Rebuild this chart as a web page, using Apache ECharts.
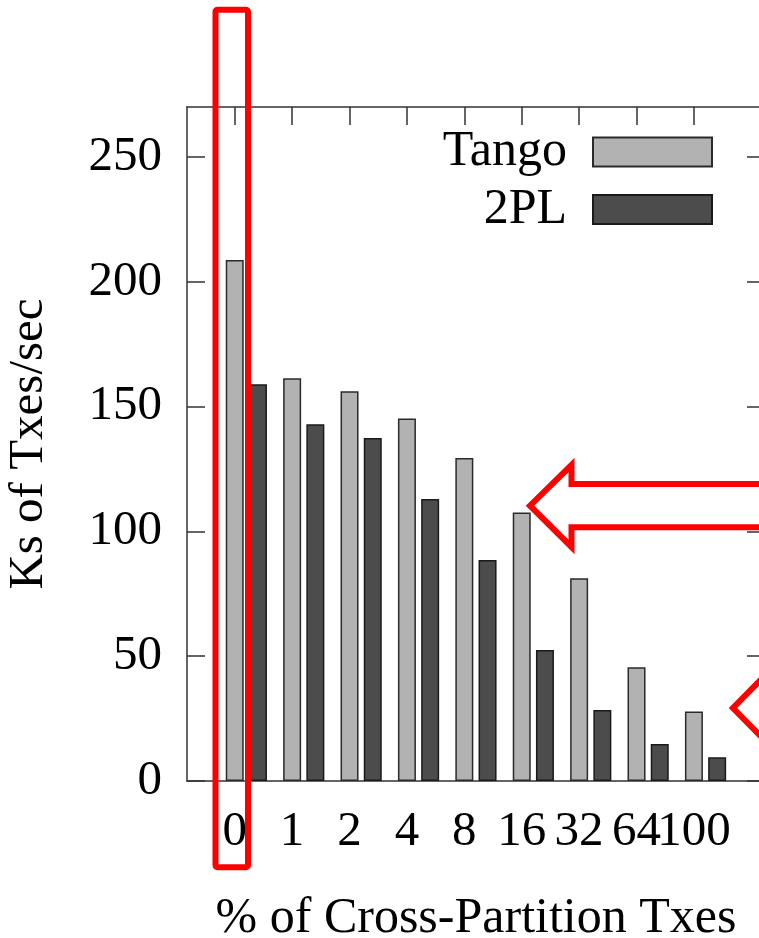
<!DOCTYPE html>
<html>
<head>
<meta charset="utf-8">
<script src="https://cdn.jsdelivr.net/npm/echarts@6/dist/echarts.min.js"></script>
<style>
  html, body { margin: 0; padding: 0; background: #fff; }
  #chart { width: 759px; height: 938px; }
</style>
</head>
<body>
<div id="chart"></div>
<script>
// % of cross-partition transactions (x categories)
var categories = ['0', '1', '2', '4', '8', '16', '32', '64', '100'];
// Ks of Txes/sec
var tangoValues = [208.7, 161.3, 156.1, 145.2, 129.4, 107.6, 81.2, 45.6, 27.8];
var twoPLValues = [158.9, 142.9, 137.4, 113.0, 88.5, 52.5, 28.4, 14.8, 9.5];
var yTicks = [0, 50, 100, 150, 200, 250];

var serif = 'Liberation Serif';
var TICK_SHIFT = 0.203; // labels sit under the first bar of each cluster
var X_MIN = -1.034, X_MAX = 9.036;

var chart = echarts.init(document.getElementById('chart'));

var tickPos = categories.map(function (c, i) { return i - TICK_SHIFT; });
// the labels touch each other, so split them over two axes to keep all of them
var evenPos = tickPos.filter(function (p, i) { return i % 2 === 0; });
var oddPos = tickPos.filter(function (p, i) { return i % 2 === 1; });

function pairs(vals) {
  return vals.map(function (v, i) { return [i, v]; });
}

var axisLineStyle = { color: '#333', width: 1.5 };
var xLabel = {
  margin: 27,
  showMinLabel: true, showMaxLabel: true,
  fontFamily: serif, fontSize: 49, color: '#000',
  formatter: function (v) { return categories[Math.round(v + TICK_SHIFT)]; }
};

chart.setOption({
  animation: false,
  backgroundColor: '#fff',
  grid: { left: 187, top: 107, width: 578, height: 674, outerBoundsMode: 'none', containLabel: false },
  legend: [
    {
      data: ['Tango'], orient: 'vertical', align: 'right', icon: 'rect',
      right: 46, top: 127, padding: 0,
      itemWidth: 119, itemHeight: 29,
      textStyle: { fontFamily: serif, fontSize: 50, color: '#000', padding: [0, 21, 0, 0] }
    },
    {
      data: ['2PL'], orient: 'vertical', align: 'right', icon: 'rect',
      right: 46, top: 184.5, padding: 0,
      itemWidth: 119, itemHeight: 29,
      textStyle: { fontFamily: serif, fontSize: 50, color: '#000', padding: [0, 21, 0, 0] }
    }
  ],
  xAxis: [
    {
      type: 'value', position: 'bottom',
      min: X_MIN, max: X_MAX,
      axisLine: { show: true, onZero: false, lineStyle: axisLineStyle },
      axisTick: { show: false },
      splitLine: { show: false },
      axisLabel: Object.assign({ customValues: evenPos }, xLabel),
      name: '% of Cross-Partition Txes',
      nameLocation: 'middle', nameGap: 113,
      nameTextStyle: { fontFamily: serif, fontSize: 50, color: '#000' }
    },
    {
      type: 'value', position: 'top',
      min: X_MIN, max: X_MAX,
      axisLine: { show: true, onZero: false, lineStyle: axisLineStyle },
      axisTick: { show: true, inside: true, length: 18, customValues: tickPos, lineStyle: axisLineStyle },
      axisLabel: { show: false },
      splitLine: { show: false }
    },
    {
      type: 'value', position: 'bottom',
      min: X_MIN, max: X_MAX,
      axisLine: { show: false, onZero: false },
      axisTick: { show: false },
      splitLine: { show: false },
      axisLabel: Object.assign({ customValues: oddPos }, xLabel)
    }
  ],
  yAxis: [
    {
      type: 'value', position: 'left',
      min: 0, max: 270, interval: 50,
      axisLine: { show: true, onZero: false, lineStyle: axisLineStyle },
      axisTick: { show: true, inside: true, length: 18, customValues: yTicks, lineStyle: axisLineStyle },
      axisLabel: {
        customValues: yTicks, margin: 25,
        fontFamily: serif, fontSize: 49, color: '#000'
      },
      splitLine: { show: false },
      name: 'Ks of Txes/sec',
      nameLocation: 'middle', nameGap: 133, nameRotate: 90,
      nameTextStyle: { fontFamily: serif, fontSize: 49, color: '#000' }
    },
    {
      type: 'value', position: 'right',
      min: 0, max: 270, interval: 50,
      axisLine: { show: true, onZero: false, lineStyle: axisLineStyle },
      axisTick: { show: true, inside: true, length: 18, customValues: yTicks, lineStyle: axisLineStyle },
      axisLabel: { show: false },
      splitLine: { show: false }
    }
  ],
  series: [
    {
      name: 'Tango', type: 'bar',
      xAxisIndex: 0, yAxisIndex: 0,
      barWidth: 18, barGap: '29%',
      itemStyle: { color: '#b2b2b2', borderColor: '#2a2a2a', borderWidth: 1.5 },
      data: pairs(tangoValues)
    },
    {
      name: '2PL', type: 'bar',
      xAxisIndex: 0, yAxisIndex: 0,
      barWidth: 18, barGap: '29%',
      itemStyle: { color: '#4c4c4c', borderColor: '#1a1a1a', borderWidth: 1.5 },
      data: pairs(twoPLValues)
    }
  ],
  // red hand-drawn annotations on top of the figure
  graphic: [
    {
      type: 'rect', z: 100,
      shape: { x: 215.5, y: 9.7, width: 32.5, height: 857.5, r: 2 },
      style: { fill: null, stroke: '#ff0000', lineWidth: 6 }
    },
    {
      type: 'polyline', z: 100,
      shape: { points: [[800, 484], [571.5, 484], [571.5, 465], [530, 505.7], [571.5, 547], [571.5, 527.3], [800, 527.3]] },
      style: { fill: null, stroke: '#ff0000', lineWidth: 6, lineJoin: 'miter' }
    },
    {
      type: 'polyline', z: 100,
      shape: { points: [[790, 650], [733, 708], [790, 766]] },
      style: { fill: null, stroke: '#ff0000', lineWidth: 6, lineJoin: 'miter' }
    }
  ]
});
</script>
</body>
</html>
